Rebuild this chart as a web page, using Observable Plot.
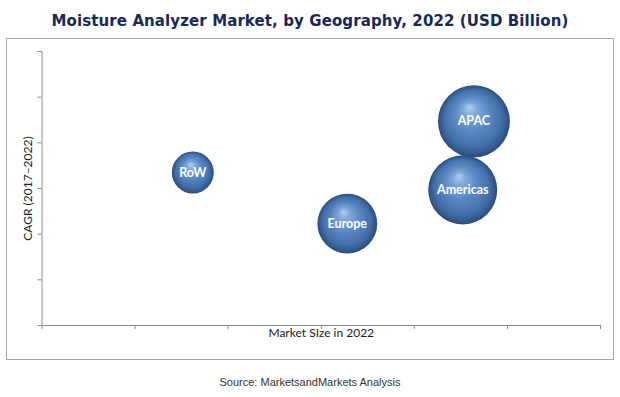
<!DOCTYPE html>
<html>
<head>
<meta charset="utf-8">
<script src="https://cdn.jsdelivr.net/npm/d3@7"></script>
<script src="https://cdn.jsdelivr.net/npm/@observablehq/plot@0.6"></script>
<style>
  html, body { margin: 0; padding: 0; background: #fff; }
  #page { position: relative; width: 620px; height: 397px; overflow: hidden; background: #fff; }
  #title { position: absolute; left: 0; top: 12px; width: 620px; text-align: center;
           font-family: "DejaVu Sans", Verdana, sans-serif; font-weight: bold; font-size: 15px;
           color: #16295a; letter-spacing: 0.1px; }
  #box { position: absolute; left: 6px; top: 38px; width: 606px; height: 320px; border: 1px solid #a6a6a6; }
  #chart { position: absolute; left: 0; top: 0; }
  #source { position: absolute; left: 0; top: 376px; width: 620px; text-align: center;
            font-family: "Liberation Sans Narrow", "Arial Narrow", "Liberation Sans", sans-serif; font-size: 11px; color: #333; }
</style>
</head>
<body>
<div id="page">
  <div id="title"></div>
  <div id="box"><div id="chart"></div></div>
  <div id="source"></div>
</div>
<script>
const titleText = "Moisture Analyzer Market, by Geography, 2022 (USD Billion)";
const sourceText = "Source: MarketsandMarkets Analysis";
const xLabel = "Market SIze in 2022";
const yLabel = "CAGR (2017–2022)";

const regions = ["RoW", "Europe", "Americas", "APAC"];
const marketSize = [1.62, 3.28, 4.52, 4.64];
const cagr = [3.35, 2.23, 2.97, 4.47];
const bubbleSize = [0.34, 0.69, 0.92, 1.0];
const xTicks = [0, 1, 2, 3, 4, 5, 6];
const yTicks = [0, 1, 2, 3, 4, 5, 6];

const data = regions.map((r, i) => ({region: r, x: marketSize[i], y: cagr[i], s: bubbleSize[i]}));

document.getElementById("title").textContent = titleText;
document.getElementById("source").textContent = sourceText;

const axisColor = "#8c8c8c";
const font = "Lato, 'Open Sans', sans-serif";

const svg = Plot.plot({
  width: 606,
  height: 320,
  marginLeft: 34.5,
  marginRight: 13,
  marginTop: 12,
  marginBottom: 34,
  style: {background: "transparent", fontFamily: font},
  x: {domain: [0, 6]},
  y: {domain: [0, 6]},
  r: {type: "sqrt", domain: [0, 1], range: [0, 36]},
  marks: [
    Plot.axisX({ticks: xTicks, tickFormat: () => "", tickSize: 4, stroke: axisColor, label: null}),
    Plot.axisY({ticks: yTicks, tickFormat: () => "", tickSize: 4, stroke: axisColor, label: null}),
    Plot.ruleY([0], {stroke: axisColor, strokeWidth: 1}),
    Plot.ruleX([0], {stroke: axisColor, strokeWidth: 1}),
    Plot.dot(data, {x: "x", y: "y", r: "s", fill: "url(#bubbleGrad)", stroke: "none"}),
    Plot.text(data, {x: "x", y: "y", text: "region", fill: "white", fontWeight: "bold", fontSize: 12.5,
                     fontFamily: font}),
    Plot.text([xLabel], {frameAnchor: "bottom", dy: 11, text: d => d, fill: "#222", fontSize: 12,
                         fontFamily: font}),
    Plot.text([yLabel], {frameAnchor: "left", textAnchor: "middle", lineAnchor: "middle", dx: -13.5, rotate: -90,
                         text: d => d, fill: "#222", fontSize: 12, fontFamily: font})
  ]
});

const defs = d3.select(svg).insert("defs", ":first-child");
const g = defs.append("radialGradient")
  .attr("id", "bubbleGrad")
  .attr("cx", "0.5").attr("cy", "0.5").attr("r", "0.5")
  .attr("fx", "0.44").attr("fy", "0.3");
[["0%", "#b3cdef"], ["20%", "#7ea6da"], ["50%", "#5886c3"], ["78%", "#4571ab"], ["93%", "#33598e"], ["100%", "#2a4a78"]]
  .forEach(([o, c]) => g.append("stop").attr("offset", o).attr("stop-color", c));

document.getElementById("chart").appendChild(svg);
</script>
</body>
</html>
